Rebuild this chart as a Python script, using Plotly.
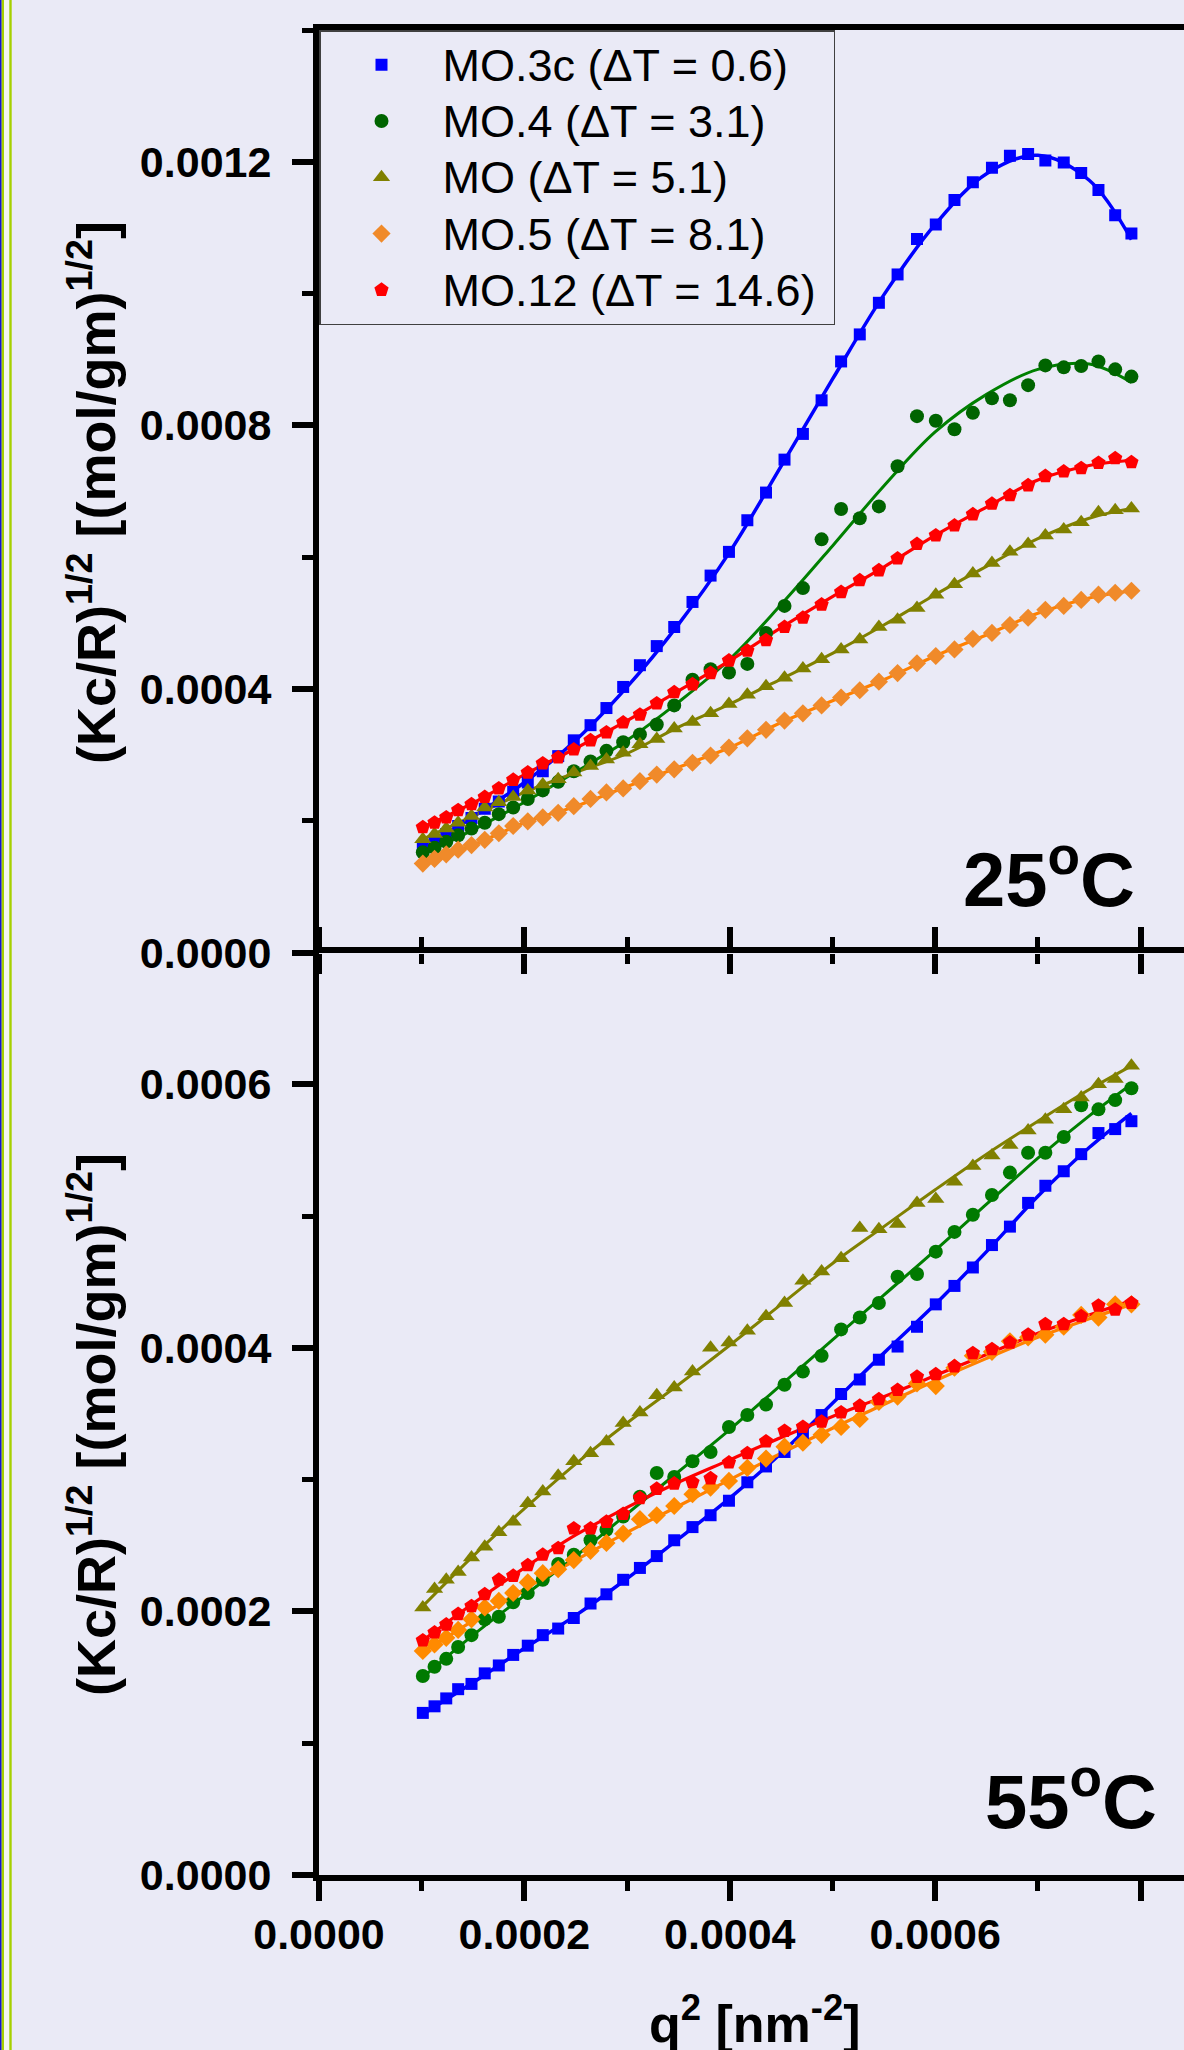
import plotly.graph_objects as go

FONT = "Liberation Sans, Arial, sans-serif"
BG = "#EAEAF6"
E4 = 1e-4  # all tabulated values below are in units of 1e-4

# q^2 [nm^-2] of the measured angles (same for every sample)
q2 = [1.011, 1.125, 1.239, 1.355, 1.485, 1.614, 1.751, 1.891, 2.033, 2.179,
      2.329, 2.481, 2.644, 2.799, 2.962, 3.125, 3.289, 3.459, 3.637, 3.813,
      3.992, 4.171, 4.353, 4.533, 4.712, 4.894, 5.084, 5.266, 5.452, 5.634,
      5.823, 6.006, 6.188, 6.367, 6.553, 6.728, 6.905, 7.073, 7.252, 7.422,
      7.590, 7.753, 7.911]

# q^2 nodes of the fitted curves
fit_q2 = [1.011, 1.5, 2.0, 2.5, 3.0, 3.5, 4.0, 4.5, 5.0, 5.5, 6.0, 6.5, 7.0, 7.5, 7.911]

labels = ["MO.3c (\u0394T = 0.6)", "MO.4 (\u0394T = 3.1)", "MO (\u0394T = 5.1)",
          "MO.5 (\u0394T = 8.1)", "MO.12 (\u0394T = 14.6)\u00a0"]

# ---- 25 C : (Kc/R)^1/2 ----
mo3c_25 = [1.57, 1.68, 1.80, 1.92, 2.04, 2.18, 2.29, 2.44, 2.58, 2.75,
           2.98, 3.22, 3.45, 3.71, 4.03, 4.36, 4.65, 4.94, 5.32, 5.72,
           6.08, 6.56, 6.98, 7.48, 7.87, 8.38, 8.97, 9.38, 9.86, 10.29,
           10.83, 11.05, 11.42, 11.69, 11.91, 12.09, 12.12, 12.02, 11.99, 11.83,
           11.57, 11.19, 10.91]
mo4_25 = [1.52, 1.59, 1.68, 1.78, 1.88, 1.97, 2.10, 2.20, 2.33, 2.46,
          2.59, 2.75, 2.90, 3.06, 3.19, 3.31, 3.46, 3.75, 4.14, 4.30,
          4.25, 4.38, 4.85, 5.26, 5.53, 6.27, 6.73, 6.59, 6.77, 7.38,
          8.14, 8.07, 7.94, 8.19, 8.41, 8.38, 8.61, 8.91, 8.88, 8.90,
          8.97, 8.85, 8.74]
mo_25 = [1.72, 1.80, 1.88, 1.97, 2.07, 2.20, 2.28, 2.36, 2.46, 2.55,
         2.63, 2.73, 2.83, 2.93, 3.03, 3.16, 3.24, 3.40, 3.50, 3.63,
         3.77, 3.91, 4.04, 4.17, 4.31, 4.45, 4.60, 4.75, 4.94, 5.05,
         5.23, 5.43, 5.59, 5.75, 5.91, 6.08, 6.20, 6.33, 6.42, 6.53,
         6.68, 6.71, 6.74]
mo5_25 = [1.35, 1.42, 1.49, 1.56, 1.63, 1.71, 1.81, 1.92, 1.99, 2.05,
          2.12, 2.22, 2.33, 2.43, 2.49, 2.60, 2.70, 2.78, 2.88, 2.99,
          3.11, 3.25, 3.38, 3.52, 3.63, 3.75, 3.87, 3.98, 4.11, 4.24,
          4.39, 4.50, 4.60, 4.76, 4.85, 4.97, 5.08, 5.20, 5.26, 5.35,
          5.43, 5.46, 5.49]
mo12_25 = [1.90, 1.97, 2.05, 2.16, 2.25, 2.36, 2.49, 2.62, 2.73, 2.87,
           2.96, 3.08, 3.22, 3.34, 3.49, 3.61, 3.78, 3.95, 4.07, 4.24,
           4.43, 4.58, 4.74, 4.94, 5.08, 5.28, 5.47, 5.65, 5.80, 5.98,
           6.20, 6.33, 6.48, 6.65, 6.81, 6.94, 7.09, 7.23, 7.30, 7.35,
           7.43, 7.50, 7.44]

fit_mo3c_25 = [1.56, 2.06, 2.58, 3.22, 4.03, 4.98, 6.08, 7.38, 8.70, 9.98, 11.05, 11.82, 12.10, 11.72, 10.82]
fit_mo4_25 = [1.49, 1.86, 2.28, 2.74, 3.22, 3.80, 4.45, 5.28, 6.17, 7.08, 7.90, 8.47, 8.85, 8.93, 8.65]
fit_mo_25 = [1.72, 2.07, 2.43, 2.73, 3.02, 3.42, 3.77, 4.15, 4.54, 4.97, 5.43, 5.86, 6.28, 6.59, 6.74]
fit_mo5_25 = [1.35, 1.63, 1.97, 2.22, 2.52, 2.81, 3.11, 3.49, 3.82, 4.14, 4.50, 4.82, 5.15, 5.38, 5.49]
fit_mo12_25 = [1.90, 2.27, 2.70, 3.10, 3.52, 3.97, 4.43, 4.93, 5.40, 5.85, 6.33, 6.76, 7.17, 7.39, 7.47]

# ---- 55 C : (Kc/R)^1/2 ----
mo3c_55 = [1.23, 1.28, 1.34, 1.41, 1.45, 1.53, 1.59, 1.67, 1.74, 1.82,
           1.87, 1.95, 2.06, 2.13, 2.24, 2.33, 2.42, 2.54, 2.64, 2.73,
           2.84, 2.98, 3.10, 3.21, 3.35, 3.49, 3.65, 3.76, 3.91, 4.01,
           4.16, 4.33, 4.47, 4.61, 4.78, 4.92, 5.10, 5.23, 5.34, 5.47,
           5.63, 5.66, 5.72]
mo4_55 = [1.51, 1.58, 1.64, 1.73, 1.82, 1.94, 1.96, 2.07, 2.14, 2.24,
          2.36, 2.43, 2.54, 2.62, 2.72, 2.87, 3.05, 3.02, 3.14, 3.21,
          3.40, 3.49, 3.57, 3.72, 3.82, 3.94, 4.14, 4.23, 4.34, 4.54,
          4.56, 4.73, 4.88, 5.01, 5.16, 5.33, 5.48, 5.48, 5.60, 5.84,
          5.81, 5.88, 5.97]
mo_55 = [2.03, 2.17, 2.24, 2.30, 2.41, 2.49, 2.60, 2.68, 2.82, 2.91,
         3.03, 3.14, 3.20, 3.29, 3.43, 3.51, 3.64, 3.70, 3.82, 4.00,
         4.04, 4.13, 4.24, 4.34, 4.51, 4.58, 4.68, 4.91, 4.90, 4.94,
         5.10, 5.13, 5.26, 5.38, 5.46, 5.54, 5.65, 5.73, 5.81, 5.90,
         6.00, 6.04, 6.14]
mo5_55 = [1.70, 1.75, 1.80, 1.86, 1.94, 2.03, 2.08, 2.14, 2.22, 2.29,
          2.32, 2.39, 2.46, 2.52, 2.59, 2.70, 2.73, 2.80, 2.89, 2.94,
          2.99, 3.09, 3.16, 3.25, 3.28, 3.34, 3.40, 3.46, 3.59, 3.63,
          3.73, 3.71, 3.85, 3.94, 3.97, 4.05, 4.08, 4.10, 4.16, 4.25,
          4.23, 4.33, 4.33]
mo12_55 = [1.78, 1.84, 1.90, 1.98, 2.04, 2.13, 2.24, 2.27, 2.35, 2.43,
           2.48, 2.63, 2.63, 2.68, 2.74, 2.86, 2.93, 2.97, 2.98, 3.01,
           3.13, 3.20, 3.29, 3.37, 3.40, 3.44, 3.51, 3.56, 3.61, 3.68,
           3.78, 3.80, 3.86, 3.96, 3.99, 4.04, 4.10, 4.18, 4.18, 4.24,
           4.32, 4.29, 4.34]

fit_mo3c_55 = [1.22, 1.46, 1.72, 1.97, 2.25, 2.55, 2.86, 3.20, 3.58, 3.96, 4.33, 4.73, 5.15, 5.52, 5.78]
fit_mo4_55 = [1.50, 1.82, 2.12, 2.42, 2.74, 3.06, 3.38, 3.72, 4.06, 4.40, 4.74, 5.09, 5.44, 5.76, 6.00]
fit_mo_55 = [2.04, 2.42, 2.78, 3.12, 3.43, 3.72, 4.02, 4.33, 4.64, 4.92, 5.20, 5.47, 5.72, 5.96, 6.14]
fit_mo5_55 = [1.69, 1.93, 2.17, 2.39, 2.60, 2.80, 3.00, 3.20, 3.39, 3.57, 3.75, 3.92, 4.08, 4.22, 4.33]
fit_mo12_55 = [1.78, 2.06, 2.33, 2.58, 2.79, 2.98, 3.15, 3.32, 3.48, 3.63, 3.79, 3.95, 4.11, 4.25, 4.36]

# marker / line styling per sample
symbols = ["square", "circle", "triangle-up", "diamond", "pentagon"]
msizes = [12, 14, 15, 14, 15]
line_colors = ["#0000FF", "#008000", "#808000", "#FF8000", "#FF0000"]
marker_colors_25 = ["#0000FF", "#006400", "#808000", "#F08A2A", "#FF0000"]
marker_colors_55 = ["#0000FF", "#007A00", "#808000", "#FF8A00", "#FF0000"]
line_widths = [3.5, 3, 3, 3.2, 3.2]


def sc(vals):
    return [v * E4 for v in vals]


def legend_label(text):
    # entries are set a little larger than the legend row pitch
    return '<span style="font-size:45px">' + text + "</span>"


fig = go.Figure()

panels = [
    ("x", "y", [mo3c_25, mo4_25, mo_25, mo5_25, mo12_25],
     [fit_mo3c_25, fit_mo4_25, fit_mo_25, fit_mo5_25, fit_mo12_25], marker_colors_25, True),
    ("x2", "y2", [mo3c_55, mo4_55, mo_55, mo5_55, mo12_55],
     [fit_mo3c_55, fit_mo4_55, fit_mo_55, fit_mo5_55, fit_mo12_55], marker_colors_55, False),
]

for xa, ya, data, fits, mcolors, legend_on in panels:
    for i in range(5):
        fig.add_trace(go.Scatter(
            x=sc(fit_q2), y=sc(fits[i]), mode="lines", xaxis=xa, yaxis=ya,
            line=dict(color=line_colors[i], width=line_widths[i], shape="spline", smoothing=1.0),
            showlegend=False, hoverinfo="skip"))
    for i in range(5):
        fig.add_trace(go.Scatter(
            x=sc(q2), y=sc(data[i]), mode="markers", xaxis=xa, yaxis=ya,
            name=legend_label(labels[i]), showlegend=legend_on,
            marker=dict(symbol=symbols[i], size=msizes[i], color=mcolors[i], line=dict(width=0))))

# carrier for the downward tick marks under the 25 C panel
fig.add_trace(go.Scatter(x=[], y=[], xaxis="x3", yaxis="y", showlegend=False, hoverinfo="skip"))

XMAX = 8.423 * E4
tickfont = dict(family=FONT, size=43, color="black", weight="bold")
minor_x = dict(ticks="outside", ticklen=10, tickwidth=5, tickcolor="black", dtick=1 * E4, tick0=0, showgrid=False)
common_x = dict(range=[0, XMAX], showgrid=False, zeroline=False, dtick=2 * E4, tick0=0, tickformat=".4f")

fig.update_layout(
    width=1184, height=2050,
    margin=dict(l=319, r=0, t=30, b=175),
    paper_bgcolor=BG, plot_bgcolor=BG,
    font=dict(family=FONT, color="black"),
    showlegend=True,
    legend=dict(x=0, y=1, xanchor="left", yanchor="top", bgcolor="rgba(0,0,0,0)",
                bordercolor="#404040", borderwidth=1.5, itemwidth=112,
                font=dict(family=FONT, size=41, color="black"), tracegroupgap=0),
    xaxis=dict(common_x, anchor="y", side="top", showline=True, linewidth=6, linecolor="black",
               ticks="", showticklabels=False),
    xaxis3=dict(common_x, anchor="y", overlaying="x", side="bottom", showline=False,
                ticks="outside", ticklen=20, tickwidth=6, tickcolor="black",
                showticklabels=False, minor=minor_x),
    xaxis2=dict(common_x, anchor="y2", side="bottom", showline=True, linewidth=6, linecolor="black",
                mirror="ticks", ticks="outside", ticklen=20, tickwidth=6, tickcolor="black",
                showticklabels=True, tickfont=tickfont, ticklabelstandoff=-4, minor=minor_x),
    yaxis=dict(domain=[0.5, 1], anchor="x", range=[0, 14 * E4], dtick=4 * E4, tick0=0,
               tickformat=".4f", showline=True, linewidth=6, linecolor="black",
               ticks="outside", ticklen=21, tickwidth=6, tickcolor="black",
               showgrid=False, zeroline=False, tickfont=tickfont, ticklabelstandoff=12,
               minor=dict(ticks="outside", ticklen=11, tickwidth=5, tickcolor="black",
                          dtick=2 * E4, tick0=0, showgrid=False)),
    yaxis2=dict(domain=[0, 0.5], anchor="x2", range=[0, 7 * E4], dtick=2 * E4, tick0=0,
                tickformat=".4f", showline=True, linewidth=6, linecolor="black",
                ticks="outside", ticklen=21, tickwidth=6, tickcolor="black",
                showgrid=False, zeroline=False, tickfont=tickfont, ticklabelstandoff=12,
                minor=dict(ticks="outside", ticklen=11, tickwidth=5, tickcolor="black",
                           dtick=1 * E4, tick0=0, showgrid=False)),
)

# pixel helpers for paper-referenced text placement
L, W, T, H = 319, 865, 30, 1845


def px_x(px):
    return (px - L) / W


def px_y(py):
    return (T + H - py) / H


ytitle = "(Kc/R)<sup>1/2</sup> [(mol/gm)<sup>1/2</sup>]"
title_font = dict(family=FONT, size=54, color="black", weight="bold")
annots = [
    dict(text=ytitle, textangle=-90, x=px_x(92), y=px_y(493), font=title_font),
    dict(text=ytitle, textangle=-90, x=px_x(92), y=px_y(1425), font=title_font),
    dict(text="q<sup>2</sup> [nm<sup>-2</sup>]", x=px_x(754), y=px_y(2020),
         font=dict(family=FONT, size=52, color="black", weight="bold")),
    dict(text="25<sup>o</sup>C", x=px_x(1137), y=px_y(874), xanchor="right",
         font=dict(family=FONT, size=76, color="black", weight="bold")),
    dict(text="55<sup>o</sup>C", x=px_x(1159), y=px_y(1796), xanchor="right",
         font=dict(family=FONT, size=76, color="black", weight="bold")),
]
for a in annots:
    a.setdefault("xanchor", "center")
    a.update(xref="paper", yref="paper", yanchor="middle", showarrow=False)
fig.update_layout(annotations=annots)

# thin coloured rules along the left border
for x0, x1, col in [(0, 1.7, "#1414D2"), (1.7, 4, "#A6D000"), (4, 9.3, "#F4F6F0"), (9.3, 11.7, "#A6D000")]:
    fig.add_shape(type="rect", xref="paper", yref="paper",
                  x0=px_x(x0), x1=px_x(x1), y0=px_y(2050), y1=px_y(0),
                  fillcolor=col, line=dict(width=0), layer="above")

fig.write_html("out.html")
